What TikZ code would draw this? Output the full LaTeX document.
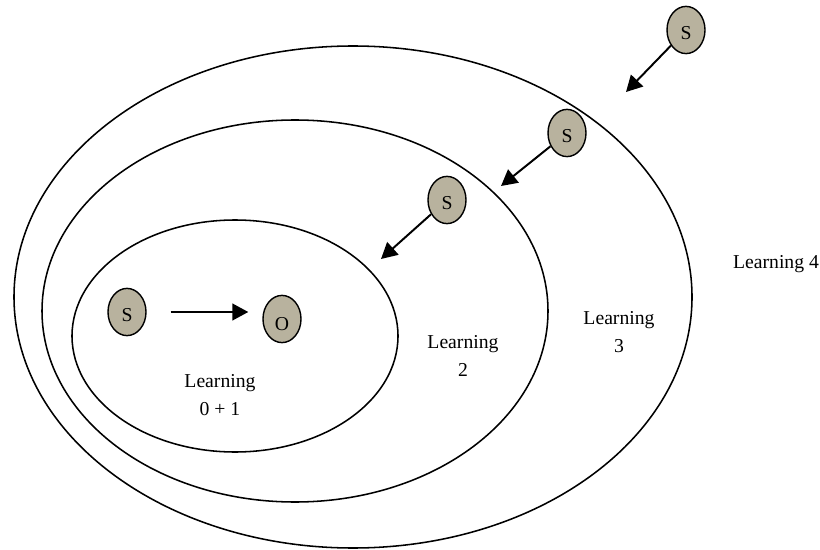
\documentclass[tikz,border=0pt]{standalone}
\usepackage{fontspec}
\setmainfont{Liberation Serif}
\usepackage{tikz}
\usetikzlibrary{arrows.meta,positioning,shapes.geometric}
\definecolor{seed}{RGB}{184,178,158}

\begin{document}
\begin{tikzpicture}[
  x=0.025cm, y=-0.025cm,
  ring/.style={draw, line width=1.1pt},
  seednode/.style={ellipse, draw, line width=1pt, fill=seed, minimum width=0.95cm, minimum height=1.18cm, inner sep=0pt, font=\fontsize{14}{16}\selectfont, text height=13pt, text depth=0pt},
  lowseed/.style={seednode, text height=17pt},
  lbl/.style={align=center, font=\fontsize{14}{20}\selectfont},
  arr/.style={-{Triangle[length=4mm, width=4.2mm]}, line width=1.4pt}
]
  \useasboundingbox (0,0) rectangle (820,550);

  % nested learning levels
  \draw[ring] (353,297) ellipse [x radius=339, y radius=251];
  \draw[ring] (295,311) ellipse [x radius=253, y radius=191];
  \draw[ring] (235,336) ellipse [x radius=163, y radius=116];

  \node[seednode] (s0) at (127,312) {S};
  \node[lowseed] (o) at (282,319) {O};
  \node[seednode] (s1) at (447,200) {S};
  \node[seednode] (s2) at (567,133) {S};
  \node[seednode] (s3) at (686,30) {S};

  \coordinate (t1) at (381,259);
  \coordinate (t2) at (501,186);
  \coordinate (t3) at (626,92);

  \draw[arr, shorten <=0.6cm, shorten >=0.35cm] (s0.east) -- (s0.east -| o.west);
  \draw[arr] (s1) -- (t1);
  \draw[arr] (s2) -- (t2);
  \draw[arr] (s3) -- (t3);

  \node[lbl] (l01) at (220,395) {Learning\\0 + 1};
  \node[lbl] (l2) at (463,356) {Learning\\2};
  \node[lbl] (l3) at (619,332) {Learning\\3};
  \node[lbl] (l4) at (776,264) {Learning 4};
\end{tikzpicture}
\end{document}
